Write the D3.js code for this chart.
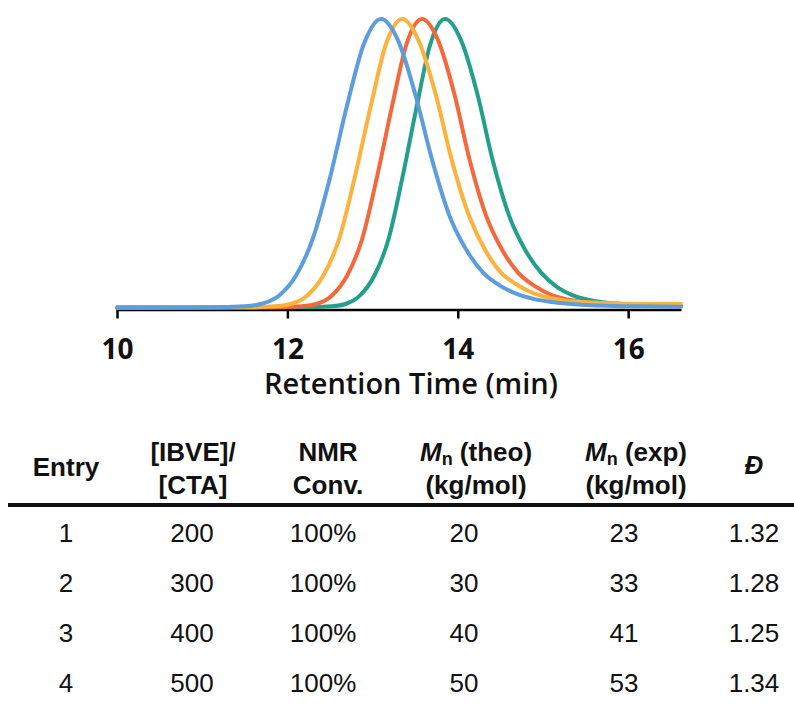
<!DOCTYPE html>
<html>
<head>
<meta charset="utf-8">
<script src="https://cdn.jsdelivr.net/npm/d3@7"></script>
<style>
  html, body { margin: 0; padding: 0; background: #fff; }
  svg { display: block; }
</style>
</head>
<body>
<svg id="chart" width="794" height="704"></svg>
<script>
// ---------- GPC traces (retention time in min, normalized RI signal) ----------
const entry1Time   = [10.0, 11.1, 11.5, 11.7, 11.9, 12.1, 12.3, 12.5, 12.7, 12.9, 13.1, 13.3, 13.5, 13.7, 13.9, 14.1, 14.3, 14.5, 14.7, 14.9, 15.1, 15.5, 16.1, 16.62];
const entry1Signal = [0, 0.0005, 0.004, 0.013, 0.041, 0.11, 0.24, 0.45, 0.70, 0.915, 1, 0.925, 0.74, 0.51, 0.32, 0.20, 0.12, 0.075, 0.046, 0.029, 0.019, 0.009, 0.004, 0.003];

const entry2Time   = [10.0, 11.49, 11.86, 12.05, 12.23, 12.42, 12.61, 12.79, 12.98, 13.16, 13.35, 13.54, 13.74, 13.93, 14.13, 14.32, 14.51, 14.71, 14.90, 15.10, 15.29, 15.68, 16.26, 16.62];
const entry2Signal = [0, 0.0005, 0.004, 0.013, 0.041, 0.11, 0.24, 0.45, 0.70, 0.915, 1, 0.925, 0.74, 0.51, 0.32, 0.20, 0.12, 0.076, 0.048, 0.032, 0.023, 0.016, 0.012, 0.012];

const entry3Time   = [10.0, 11.82, 12.17, 12.35, 12.52, 12.70, 12.88, 13.05, 13.23, 13.40, 13.58, 13.77, 13.96, 14.14, 14.33, 14.52, 14.71, 14.90, 15.08, 15.27, 15.46, 15.84, 16.40, 16.62];
const entry3Signal = [0, 0.0005, 0.004, 0.013, 0.041, 0.11, 0.24, 0.45, 0.70, 0.915, 1, 0.925, 0.74, 0.51, 0.32, 0.20, 0.12, 0.075, 0.046, 0.029, 0.019, 0.010, 0.007, 0.006];

const entry4Time   = [10.0, 12.19, 12.52, 12.69, 12.85, 13.02, 13.19, 13.35, 13.52, 13.68, 13.85, 14.04, 14.23, 14.41, 14.60, 14.79, 14.98, 15.17, 15.35, 15.54, 15.73, 16.11, 16.62];
const entry4Signal = [0, 0.0005, 0.004, 0.013, 0.041, 0.11, 0.24, 0.45, 0.70, 0.915, 1, 0.925, 0.74, 0.51, 0.32, 0.20, 0.12, 0.07, 0.042, 0.026, 0.017, 0.009, 0.006];

const xTicks = [10, 12, 14, 16];
const xTitle = "Retention Time (min)";

// ---------- Table ----------
const entries    = ["1", "2", "3", "4"];
const ratioIBVE  = ["200", "300", "400", "500"];
const nmrConv    = ["100%", "100%", "100%", "100%"];
const mnTheo     = ["20", "30", "40", "50"];
const mnExp      = ["23", "33", "41", "53"];
const dispersity = ["1.32", "1.28", "1.25", "1.34"];

const seriesColors = {e1: "#5b9ddd", e2: "#fdb23d", e3: "#f4683c", e4: "#22a08b"};

// ---------- Drawing ----------
const svg = d3.select("#chart");

const x = d3.scaleLinear().domain([10, 16.62]).range([117, 681]);
const y = d3.scaleLinear().domain([0, 1]).range([307.5, 19]);

// axis
const axisY = 309.5;
const axis = d3.axisBottom(x).tickValues(xTicks).tickSize(9).tickSizeOuter(0).tickFormat(d3.format("d"));
const gAxis = svg.append("g").attr("transform", `translate(0,${axisY})`).call(axis);
gAxis.select(".domain").attr("stroke", "#000").attr("stroke-width", 2.5);
gAxis.selectAll(".tick line").attr("stroke", "#000").attr("stroke-width", 2.5);
gAxis.selectAll(".tick text")
  .attr("y", 49).attr("dy", 0)
  .attr("fill", "#111")
  .style("font-family", "'Open Sans', 'Noto Sans', sans-serif")
  .style("font-weight", 700)
  .style("font-size", "28px");

svg.append("text")
  .attr("x", 411).attr("y", 394)
  .attr("text-anchor", "middle")
  .attr("fill", "#111")
  .style("font-family", "'Open Sans', 'Noto Sans', sans-serif")
  .style("font-weight", 600)
  .style("font-size", "29px")
  .text(xTitle);

// traces (drawn so entry 1 ends on top)
const traces = [
  {key: "e4", t: entry4Time, s: entry4Signal},
  {key: "e3", t: entry3Time, s: entry3Signal},
  {key: "e2", t: entry2Time, s: entry2Signal},
  {key: "e1", t: entry1Time, s: entry1Signal}
];
const line = d3.line().x(d => x(d[0])).y(d => y(d[1])).curve(d3.curveMonotoneX);
svg.append("g").selectAll("path").data(traces).join("path")
  .attr("d", d => line(d3.zip(d.t, d.s)))
  .attr("fill", "none")
  .attr("stroke", d => seriesColors[d.key])
  .attr("stroke-width", 4)
  .attr("stroke-linejoin", "round")
  .attr("stroke-linecap", "round");

// ---------- Table ----------
const tbl = svg.append("g")
  .style("font-family", "'Liberation Sans', Arial, sans-serif")
  .style("font-size", "26px")
  .attr("fill", "#111");

// header
const line1 = 461, line2 = 494, midBase = 476;
function hdr(xp, yp, txt) {
  return tbl.append("text").attr("x", xp).attr("y", yp).attr("text-anchor", "middle")
    .style("font-weight", 700).text(txt);
}
hdr(66, midBase, "Entry");
hdr(193, line1, "[IBVE]/");
hdr(193, line2, "[CTA]");
hdr(328, line1, "NMR");
hdr(328, line2, "Conv.");
function mnHeader(xp, rest) {
  const t = tbl.append("text").attr("x", xp).attr("y", line1).attr("text-anchor", "middle").style("font-weight", 700);
  t.append("tspan").style("font-style", "italic").text("M");
  t.append("tspan").attr("dy", 4).style("font-size", "18px").text("n");
  t.append("tspan").attr("dy", -4).text(" " + rest);
  hdr(xp, line2, "(kg/mol)");
}
mnHeader(476, "(theo)");
mnHeader(636, "(exp)");
tbl.append("text").attr("x", 754).attr("y", 474).attr("text-anchor", "middle")
  .style("font-weight", 700).style("font-style", "italic").text("Đ");

// rule
tbl.append("line").attr("x1", 8).attr("x2", 794).attr("y1", 505).attr("y2", 505)
  .attr("stroke", "#111").attr("stroke-width", 4);

// rows
const rowY = d3.scalePoint().domain(entries).range([532, 682]);
const cols = [
  {vals: entries, cx: 66},
  {vals: ratioIBVE, cx: 192},
  {vals: nmrConv, cx: 323},
  {vals: mnTheo, cx: 464},
  {vals: mnExp, cx: 624},
  {vals: dispersity, cx: 754}
];
cols.forEach(c => {
  tbl.append("g").selectAll("text").data(entries).join("text")
    .attr("x", c.cx)
    .attr("y", d => rowY(d) + 9.5)
    .attr("text-anchor", "middle")
    .style("font-weight", 400)
    .text((d, i) => c.vals[i]);
});
</script>
</body>
</html>
